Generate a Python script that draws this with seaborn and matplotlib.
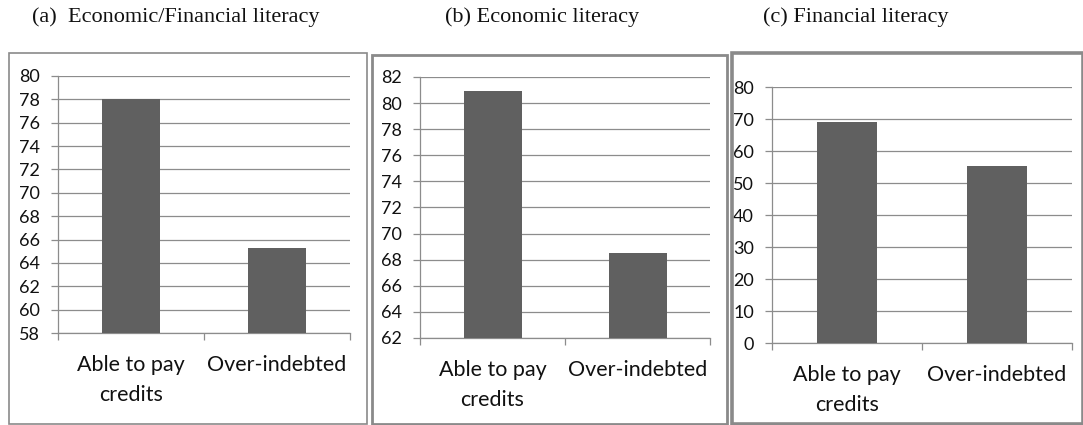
import matplotlib
matplotlib.use("Agg")
import matplotlib.pyplot as plt
import seaborn as sns
import pandas as pd
from matplotlib.patches import Rectangle

sns.set_theme(style="white")
plt.rcParams['font.family'] = ['Lato', 'DejaVu Sans']

categories = ["Able to pay\ncredits", "Over-indebted"]
values_a = [78.0, 65.3]
values_b = [80.9, 68.5]
values_c = [69.2, 55.3]
titles = ["(a)  Economic/Financial literacy", "(b) Economic literacy", "(c) Financial literacy"]
ylims = [(58, 80), (62, 82), (0, 80)]
ysteps = [2, 2, 10]

W, H = 1083, 425
fig = plt.figure(figsize=(W / 100, H / 100), dpi=100)

def fx(x):
    return x / W

def fy(y):
    return 1 - y / H

# frames (left, top, right) in pixels
frames = [(9, 53, 367, 1.2), (372, 55, 727, 2.0), (732, 53, 1083, 2.6)]
for (l, t, r, lw) in frames:
    fig.patches.append(Rectangle((fx(l), fy(424)), fx(r) - fx(l), fy(t) - fy(424),
                                 transform=fig.transFigure, fill=False,
                                 edgecolor="#8a8a8a", linewidth=lw))

# axes boxes: left, top, right, bottom in pixels
boxes = [(58, 76, 350, 333), (420, 77, 710, 338), (772, 87, 1072, 343)]
title_x = [32, 445, 763]
gray = "#8c8c8c"

for vals, box, yl, st, tt, tx in zip([values_a, values_b, values_c], boxes, ylims, ysteps, titles, title_x):
    l, t, r, b = box
    ax = fig.add_axes([fx(l), fy(b), fx(r) - fx(l), fy(t) - fy(b)])
    df = pd.DataFrame({"cat": categories, "val": vals})
    sns.barplot(data=df, x="cat", y="val", color="#606060", width=0.4,
                saturation=1, ax=ax, zorder=3)
    for p in ax.patches:
        p.set_edgecolor("none")
    ax.set_ylim(*yl)
    ax.set_xlim(-0.5, 1.5)
    ax.set_yticks(list(range(yl[0], yl[1] + 1, st)))
    ax.yaxis.grid(True, color=gray, linewidth=0.9, zorder=0)
    ax.set_axisbelow(True)
    for s in ["top", "right"]:
        ax.spines[s].set_visible(False)
    for s in ["left", "bottom"]:
        ax.spines[s].set_color(gray)
        ax.spines[s].set_linewidth(0.9)
    ax.set_xlabel("")
    ax.set_ylabel("")
    ax.tick_params(axis="y", length=5, width=0.9, color=gray, labelsize=13,
                   labelcolor="#111111", pad=8, left=True)
    ax.set_xticks([0, 1])
    ax.set_xticklabels(categories, linespacing=1.6, multialignment="center")
    ax.tick_params(axis="x", which="major", length=0, labelsize=15.5,
                   labelcolor="#111111", pad=16)
    ax.set_xticks([-0.5, 0.5, 1.5], minor=True)
    ax.tick_params(axis="x", which="minor", length=5, width=0.9, color=gray,
                   bottom=True)
    fig.text(fx(tx), fy(17), tt, family="Liberation Serif", fontsize=16,
             color="#111111", ha="left", va="center")

fig.savefig("out.png", dpi=100, facecolor="white")
